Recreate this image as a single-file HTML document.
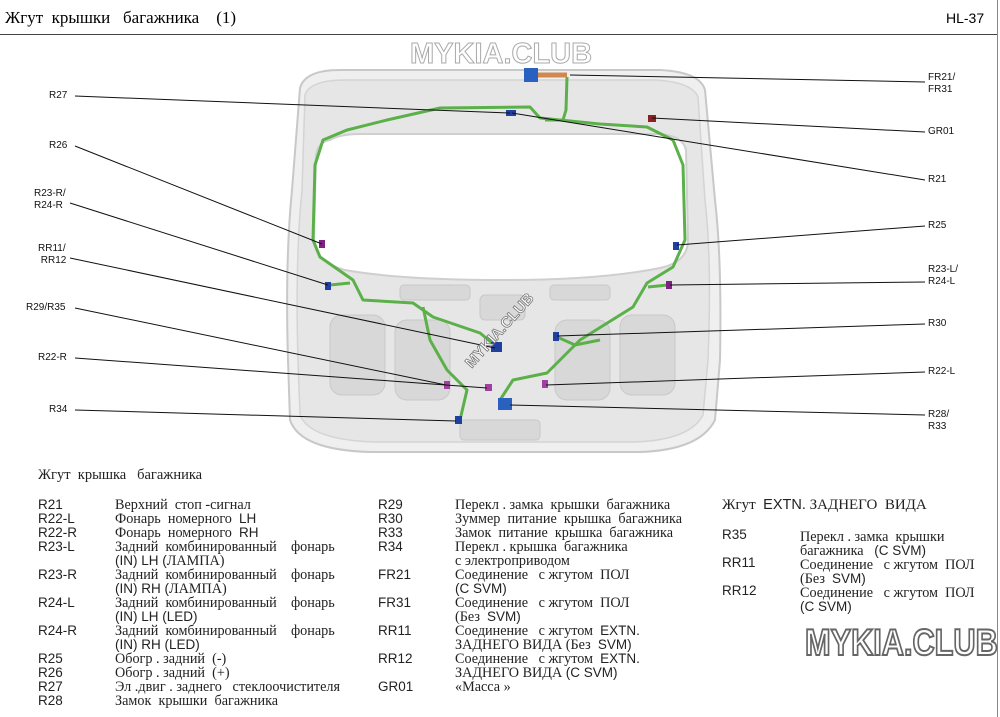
<!DOCTYPE html>
<html><head><meta charset="utf-8"><style>
body{margin:0;width:1000px;height:717px;background:#fff;position:relative;overflow:hidden;font-family:"Liberation Sans",sans-serif}
.a{position:absolute;white-space:nowrap}
.s{font-family:"Liberation Serif","Noto Serif CJK SC",serif;font-size:14.2px;color:#222}
.c{font-family:"Liberation Sans",sans-serif;font-size:13.5px;color:#222}
.l{font-size:10px;color:#111;line-height:12px}
.wm{font-family:"Liberation Sans",sans-serif;font-weight:bold;color:#fff;-webkit-text-stroke:1.5px #999}
</style></head><body>
<div class="a s" style="left:5px;top:8px;font-size:17px;color:#000">Жгут &nbsp;крышки &nbsp;&nbsp;багажника &nbsp;&nbsp;&nbsp;(1)</div>
<div class="a" style="left:946px;top:10px;font-size:14px;color:#000">HL-37</div>
<div class="a" style="left:0;top:34px;width:998px;height:1px;background:#444"></div>
<div class="a" style="left:997px;top:0;width:1px;height:717px;background:#888"></div>

<svg class="a" style="left:0;top:0" width="1000" height="470">
<path d="M300,88 Q305,70 340,70 L660,70 Q700,72 705,90 L715,200 Q722,260 720,360 L715,420 Q700,450 640,452 L370,452 Q300,450 290,420 L288,360 Q285,260 292,190 Z" fill="#efefef" stroke="#c8c8c8" stroke-width="2"/>
<path d="M305,95 Q310,80 345,80 L655,80 Q692,82 698,97 L705,200 Q712,260 708,360 L703,415 Q690,440 635,442 L375,442 Q310,440 300,415 L298,360 Q295,260 302,190 Z" fill="#e6e6e6" stroke="#d4d4d4" stroke-width="1.5"/>
<path d="M330,140 Q340,134 360,134 L660,134 Q683,136 686,150 L688,240 Q688,262 660,268 Q600,280 505,280 Q400,280 345,270 Q315,262 314,240 L316,155 Q318,142 330,140 Z" fill="#fff" stroke="#cfcfcf" stroke-width="2"/>
<g fill="#d8d8d8" stroke="#c8c8c8"><rect x="330" y="315" width="55" height="80" rx="12"/><rect x="395" y="320" width="55" height="80" rx="12"/><rect x="555" y="320" width="55" height="80" rx="12"/><rect x="620" y="315" width="55" height="80" rx="12"/><rect x="480" y="295" width="45" height="25" rx="5"/><rect x="400" y="285" width="70" height="15" rx="4"/><rect x="550" y="285" width="60" height="15" rx="4"/><rect x="460" y="420" width="80" height="20" rx="4"/></g>
<g fill="none" stroke="#5cb04a" stroke-width="3" stroke-linejoin="round">
<path d="M497,347 L480,333 L433,317 L413,303 L363,300 L353,280 L320,257 L313,240 L315,165 L323,140 L347,130 L387,120 L440,108 L530,107 L540,118 L600,124 L647,127 L673,140 L683,165 L685,240 L673,267 L647,283 L633,307 L580,340 L547,373 L513,380 L500,400"/>
<path d="M423,307 L430,340 L447,370 L467,390 L460,420"/>
<path d="M567,77 L566,110 L563,120 L545,120"/>
<path d="M330,285 L350,283 M668,285 L648,287 M555,336 L575,345 L600,340"/>
</g>
<path d="M535,75 L567,75" stroke="#d08850" stroke-width="5"/>
<g>
<rect x="524" y="68" width="14" height="14" fill="#2a60c0"/>
<rect x="506" y="110" width="10" height="6" fill="#2040a0"/>
<rect x="648" y="115" width="8" height="7" fill="#8a2020"/>
<rect x="319" y="240" width="6" height="8" fill="#802080"/>
<rect x="673" y="242" width="6" height="8" fill="#2040a0"/>
<rect x="325" y="282" width="6" height="8" fill="#2040a0"/>
<rect x="666" y="281" width="6" height="8" fill="#802080"/>
<rect x="491" y="342" width="11" height="10" fill="#2040a0"/>
<rect x="553" y="332" width="6" height="9" fill="#2040a0"/>
<rect x="444" y="381" width="6" height="8" fill="#a040a0"/>
<rect x="485" y="384" width="7" height="7" fill="#a040a0"/>
<rect x="542" y="380" width="6" height="8" fill="#a040a0"/>
<rect x="498" y="398" width="14" height="12" fill="#2a60c0"/>
<rect x="455" y="416" width="7" height="8" fill="#2040a0"/>
</g>
<g stroke="#111" stroke-width="1" fill="none">
<path d="M75,96 L510,113"/><path d="M75,146 L322,244"/><path d="M70,203 L328,285"/>
<path d="M70,258 L495,348"/><path d="M75,308 L446,385"/><path d="M75,358 L487,388"/>
<path d="M75,410 L456,421"/>
<path d="M925,82 L570,75"/><path d="M925,132 L652,118"/><path d="M925,180 L512,113"/>
<path d="M925,226 L677,245"/><path d="M925,282 L670,285"/><path d="M925,324 L557,336"/>
<path d="M925,372 L546,385"/><path d="M925,415 L510,405"/>
</g>
</svg>
<div class="a wm" style="left:410px;top:38px;font-size:29px;-webkit-text-stroke:1px #aaa">MYKIA.CLUB</div>
<div class="a wm" style="left:462px;top:360px;font-size:15px;transform:rotate(-48deg);transform-origin:left top;-webkit-text-stroke:0.8px #777">MYKIA.CLUB</div>

<div class="a l" style="left:49px;top:90px">R27</div>
<div class="a l" style="left:49px;top:140px">R26</div>
<div class="a l" style="left:34px;top:188px">R23-R/<br>R24-R</div>
<div class="a l" style="left:38px;top:243px">RR11/<br>&nbsp;RR12</div>
<div class="a l" style="left:26px;top:302px">R29/R35</div>
<div class="a l" style="left:38px;top:352px">R22-R</div>
<div class="a l" style="left:49px;top:404px">R34</div>
<div class="a l" style="left:928px;top:72px">FR21/<br>FR31</div>
<div class="a l" style="left:928px;top:126px">GR01</div>
<div class="a l" style="left:928px;top:174px">R21</div>
<div class="a l" style="left:928px;top:220px">R25</div>
<div class="a l" style="left:928px;top:264px">R23-L/<br>R24-L</div>
<div class="a l" style="left:928px;top:318px">R30</div>
<div class="a l" style="left:928px;top:366px">R22-L</div>
<div class="a l" style="left:928px;top:409px">R28/<br>R33</div>

<div class="a s" style="left:38px;top:467px;font-size:14.5px">Жгут &nbsp;крышка &nbsp;&nbsp;багажника</div>
<div class="a c" style="left:38px;top:498px;line-height:14px">R21<br>R22-L<br>R22-R<br>R23-L<br><br>R23-R<br><br>R24-L<br><br>R24-R<br><br>R25<br>R26<br>R27<br>R28</div>
<div class="a s" style="left:115px;top:498px;line-height:14px">Верхний &nbsp;стоп -сигнал<br>Фонарь &nbsp;номерного &nbsp;<span class="c">LH</span><br>Фонарь &nbsp;номерного &nbsp;<span class="c">RH</span><br>Задний &nbsp;комбинированный &nbsp;&nbsp;&nbsp;фонарь<br><span class="c">(IN) LH (</span>ЛАМПА)<br>Задний &nbsp;комбинированный &nbsp;&nbsp;&nbsp;фонарь<br><span class="c">(IN) RH (</span>ЛАМПА)<br>Задний &nbsp;комбинированный &nbsp;&nbsp;&nbsp;фонарь<br><span class="c">(IN) LH (LED)</span><br>Задний &nbsp;комбинированный &nbsp;&nbsp;&nbsp;фонарь<br><span class="c">(IN) RH (LED)</span><br>Обогр . задний &nbsp;(-)<br>Обогр . задний &nbsp;(+)<br>Эл .двиг . заднего &nbsp;&nbsp;стеклоочистителя<br>Замок &nbsp;крышки &nbsp;багажника</div>
<div class="a c" style="left:378px;top:498px;line-height:14px">R29<br>R30<br>R33<br>R34<br><br>FR21<br><br>FR31<br><br>RR11<br><br>RR12<br><br>GR01</div>
<div class="a s" style="left:455px;top:498px;line-height:14px">Перекл . замка &nbsp;крышки &nbsp;багажника<br>Зуммер &nbsp;питание &nbsp;крышка &nbsp;багажника<br>Замок &nbsp;питание &nbsp;крышка &nbsp;багажника<br>Перекл . крышка &nbsp;багажника<br>с электроприводом<br>Соединение &nbsp;&nbsp;с жгутом &nbsp;ПОЛ<br><span class="c">(C SVM)</span><br>Соединение &nbsp;&nbsp;с жгутом &nbsp;ПОЛ<br>(Без &nbsp;<span class="c">SVM)</span><br>Соединение &nbsp;&nbsp;с жгутом &nbsp;<span class="c">EXTN.</span><br>ЗАДНЕГО ВИДА (Без &nbsp;<span class="c">SVM)</span><br>Соединение &nbsp;&nbsp;с жгутом &nbsp;<span class="c">EXTN.</span><br>ЗАДНЕГО ВИДА <span class="c">(C SVM)</span><br>«Масса »</div>
<div class="a s" style="left:722px;top:497px;font-size:15px">Жгут &nbsp;<span class="c" style="font-size:14.5px">EXTN.</span> ЗАДНЕГО &nbsp;ВИДА</div>
<div class="a c" style="left:722px;top:528px;line-height:14px">R35<br><br>RR11<br><br>RR12</div>
<div class="a s" style="left:800px;top:530px;line-height:14px">Перекл . замка &nbsp;крышки<br>багажника &nbsp;&nbsp;<span class="c">(C SVM)</span><br>Соединение &nbsp;&nbsp;с жгутом &nbsp;ПОЛ<br>(Без &nbsp;<span class="c">SVM)</span><br>Соединение &nbsp;&nbsp;с жгутом &nbsp;ПОЛ<br><span class="c">(C SVM)</span></div>
<div class="a wm" style="left:805px;top:622px;font-size:37px;-webkit-text-stroke:2px #666;transform:scaleX(0.83);transform-origin:left top">MYKIA.CLUB</div>
</body></html>
